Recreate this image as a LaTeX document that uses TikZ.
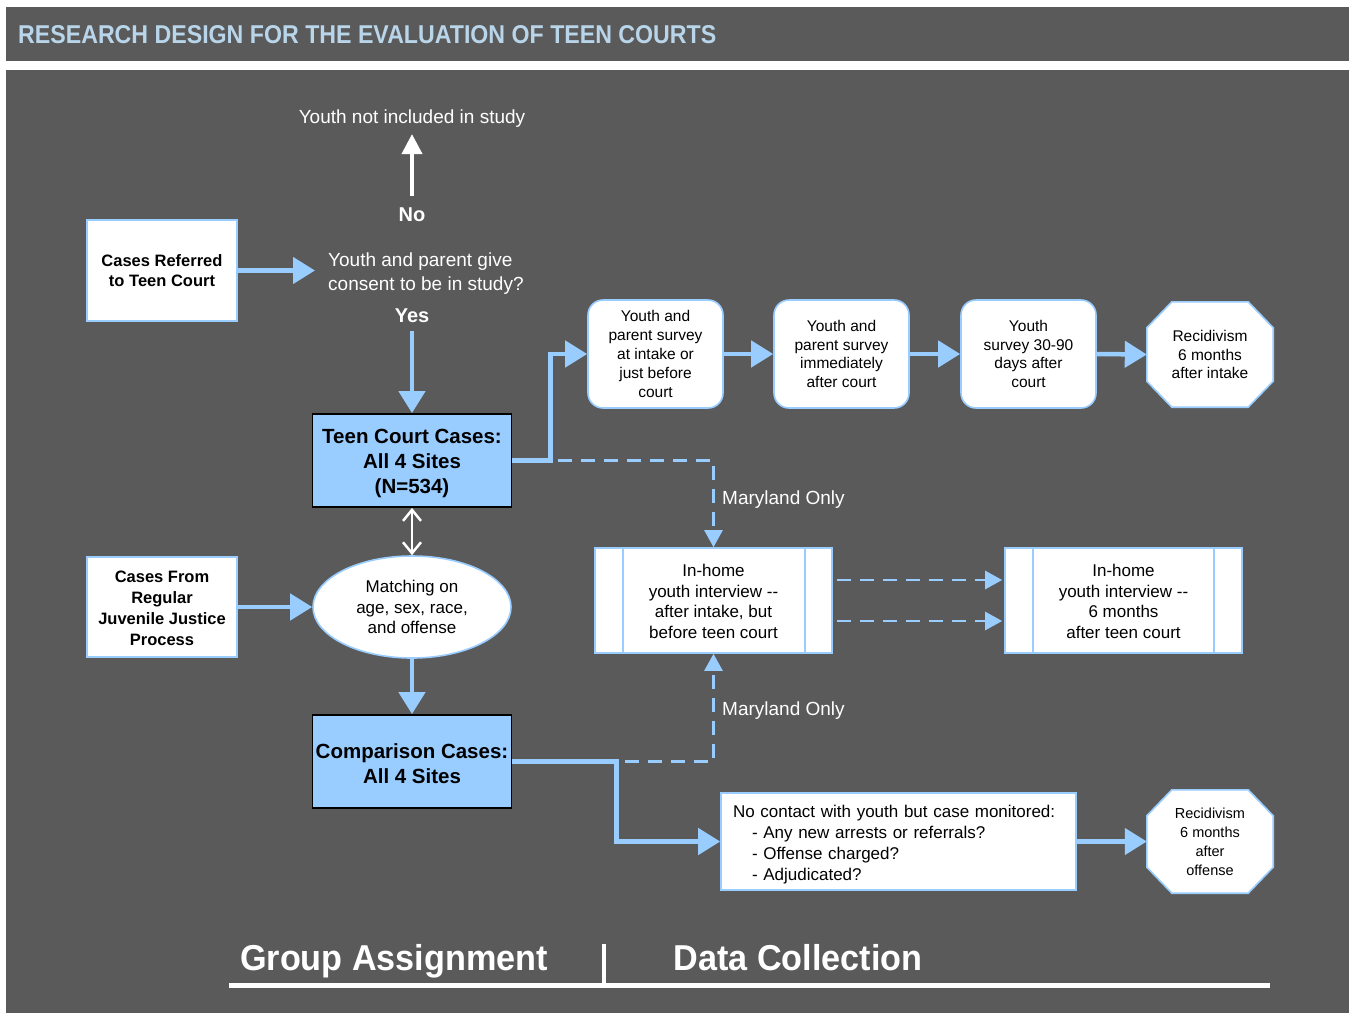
\documentclass[tikz,border=0pt]{standalone}
\usepackage{fontspec}
\setmainfont{Liberation Sans}
\usetikzlibrary{arrows.meta,shapes.geometric,calc}
\definecolor{bg}{HTML}{5A5A5A}
\definecolor{lblue}{HTML}{99CCFF}
\definecolor{ttl}{HTML}{B9D5EA}
\newcommand\fsz[2]{\fontsize{#1}{#2}\selectfont}
\begin{document}
\begin{tikzpicture}[x=1pt,y=-1pt,
  wbox/.style={draw=lblue,fill=white,line width=1.6pt,align=center,inner sep=0pt,text=black},
  bbox/.style={draw=black,fill=lblue,line width=1.8pt,align=center,inner sep=0pt,text=black,font=\bfseries\fsz{20.5}{25}},
  survey/.style={wbox,rounded corners=15pt,minimum width=135pt,minimum height=108pt,font=\fsz{15.5}{18.8}},
  inhome/.style={wbox,minimum width=237pt,minimum height=105pt,font=\fsz{17}{20.7}},
  octbox/.style={inner sep=0pt,minimum width=126pt},
  gtext/.style={text=white,inner sep=0pt},
  barrow/.style={draw=lblue,line width=4.5pt,-{Triangle[length=22pt,width=26pt]}},
  dlink/.style={draw=lblue,line width=2.5pt,dash pattern=on 14pt off 9pt,-{Triangle[length=17pt,width=18pt]}},
  warrow/.style={draw=white,line width=4pt,-{Triangle[length=20pt,width=20pt]}},
  wdouble/.style={draw=white,line width=2.5pt,{Straight Barb[length=11pt,width=18pt]}-{Straight Barb[length=11pt,width=18pt]}},
  octline/.style={draw=lblue,fill=white,line width=1.6pt}
]
\useasboundingbox (0,0) rectangle (1349,1013);
\fill[white] (0,0) rectangle (1349,1013);
\fill[bg] (6,7) rectangle (1349,61);
\fill[bg] (6,70) rectangle (1349,1013);

% title
\node[anchor=west,text=ttl,inner sep=0pt] (title) at (18,34.5) {\resizebox{698pt}{18pt}{\bfseries RESEARCH DESIGN FOR THE EVALUATION OF TEEN COURTS}};

% group assignment side
\node[wbox,minimum width=150pt,minimum height=101pt,font=\bfseries\fsz{16.5}{20.5}] (ref) at (162,270.5) {Cases Referred\\to Teen Court};
\node[gtext,font=\fsz{19}{23}] (notinc) at (412,119) {Youth not included in study};
\node[gtext,font=\bfseries\fsz{20}{24}] (no) at (412,214.5) {No};
\node[gtext,align=left,anchor=west,inner xsep=13pt,font=\fsz{19}{24}] (consent) at (315,274) {Youth and parent give\\consent to be in study?};
\node[gtext,font=\bfseries\fsz{20}{24}] (yes) at (412,316) {Yes};
\node[bbox,minimum width=199pt,minimum height=93pt] (teen) at (412,460.5) {\rule{0pt}{20.7pt}Teen Court Cases:\\All 4 Sites\\(N=534)};
\node[wbox,ellipse,minimum width=198pt,minimum height=102pt,font=\fsz{17}{20.5}] (match) at (412,607) {Matching on\\age, sex, race,\\and offense};
\node[wbox,minimum width=150pt,minimum height=100pt,font=\bfseries\fsz{16.5}{21}] (from) at (162,607) {\rule{0pt}{14pt}Cases From\\Regular\\Juvenile Justice\\Process};
\node[bbox,minimum width=199pt,minimum height=93pt] (comp) at (412,761.5) {\rule{0pt}{19pt}Comparison Cases:\\All 4 Sites};

% data collection side
\node[survey] (s1) at (655.5,354) {Youth and\\parent survey\\at intake or\\just before\\court};
\node[survey] (s2) at (841.5,354) {Youth and\\parent survey\\immediately\\after court};
\node[survey] (s3) at (1028.5,354) {Youth\\survey 30-90\\days after\\court};

\node[octbox,minimum height=105pt] (r1) at (1210,354.5) {};
\draw[octline] ($(r1.north west)+(25,0)$) -- ($(r1.north east)+(-25,0)$) -- ($(r1.north east)+(0,26)$) -- ($(r1.south east)+(0,-26)$) -- ($(r1.south east)+(-25,0)$) -- ($(r1.south west)+(25,0)$) -- ($(r1.south west)+(0,-26)$) -- ($(r1.north west)+(0,26)$) -- cycle;
\node[align=center,inner sep=0pt,font=\fsz{15.5}{18.5}] (r1t) at (r1) {Recidivism\\6 months\\after intake};

\node[inhome] (ih1) at (713.5,600.5) {\rule{0pt}{14pt}In-home\\youth interview -{}-\\after intake, but\\before teen court};
\draw[draw=lblue,line width=1.5pt] ($(ih1.north west)+(29,0)$) -- ($(ih1.south west)+(29,0)$);
\draw[draw=lblue,line width=1.5pt] ($(ih1.north east)+(-28,0)$) -- ($(ih1.south east)+(-28,0)$);
\node[inhome] (ih2) at (1123.5,600.5) {\rule{0pt}{14pt}In-home\\youth interview -{}-\\6 months\\after teen court};
\draw[draw=lblue,line width=1.5pt] ($(ih2.north west)+(29,0)$) -- ($(ih2.south west)+(29,0)$);
\draw[draw=lblue,line width=1.5pt] ($(ih2.north east)+(-29,0)$) -- ($(ih2.south east)+(-29,0)$);

\node[wbox,minimum width=355pt,minimum height=97pt,text width=331pt,inner xsep=12pt,align=left,font=\fsz{17}{21}] (nc) at (898.5,841.5) {\rule{0pt}{18.5pt}No contact with youth but case monitored:\\\hspace*{19pt}- Any new arrests or referrals?\\\hspace*{19pt}- Offense charged?\\\hspace*{19pt}- Adjudicated?};

\node[octbox,minimum height=103pt] (r2) at (1210,841.5) {};
\draw[octline] ($(r2.north west)+(25,0)$) -- ($(r2.north east)+(-25,0)$) -- ($(r2.north east)+(0,26)$) -- ($(r2.south east)+(0,-26)$) -- ($(r2.south east)+(-25,0)$) -- ($(r2.south west)+(25,0)$) -- ($(r2.south west)+(0,-26)$) -- ($(r2.north west)+(0,26)$) -- cycle;
\node[align=center,inner sep=0pt,font=\fsz{14.5}{19}] (r2t) at (r2) {Recidivism\\6 months\\after\\offense};

\node[gtext,anchor=west,font=\fsz{19}{23}] (md1) at (722,500) {Maryland Only};
\node[gtext,anchor=west,font=\fsz{19}{23}] (md2) at (722,711) {Maryland Only};

% connectors
\draw[barrow] (ref.east) -- (ref.east -| consent.west);
\draw[warrow] ($(no.north)+(0,-11)$) -- ($(notinc.south)+(0,6)$);
\draw[barrow] ($(yes.south)+(0,8)$) -- (teen.north);
\draw[dlink] (teen.east) -| (ih1.north);
\draw[barrow] (teen.east) -- ++(38,0) |- (s1.west);
\draw[barrow] (s1.east) -- (s2.west);
\draw[barrow] (s2.east) -- (s3.west);
\draw[barrow] (s3.east) -- (r1.west);
\draw[wdouble] (teen.south) -- (match.north);
\draw[barrow] (from.east) -- (match.west);
\draw[barrow] (match.south) -- (comp.north);
\draw[barrow] (comp.east) -- ++(104,0) |- (nc.west);
\coordinate (cd) at (625,761.5);
\draw[dlink] (cd) -| (ih1.south);
\draw[dlink] ($(ih1.east)+(4,-20.5)$) -- ($(ih2.west)+(-2,-20.5)$);
\draw[dlink] ($(ih1.east)+(4,20.5)$) -- ($(ih2.west)+(-2,20.5)$);
\draw[barrow] (nc.east) -- (r2.west);

% bottom labels
\node[gtext,anchor=base,font=\bfseries\fsz{36}{40}] (ga) at (394,970) {\scalebox{0.95}[1]{Group Assignment}};
\node[gtext,anchor=base,font=\bfseries\fsz{36}{40}] (dc) at (798,970) {\scalebox{0.95}[1]{Data Collection}};
\draw[white,line width=5pt] (229,985.5) -- (1270,985.5);
\draw[white,line width=4pt] (604,944) -- (604,983);
\end{tikzpicture}
\end{document}
